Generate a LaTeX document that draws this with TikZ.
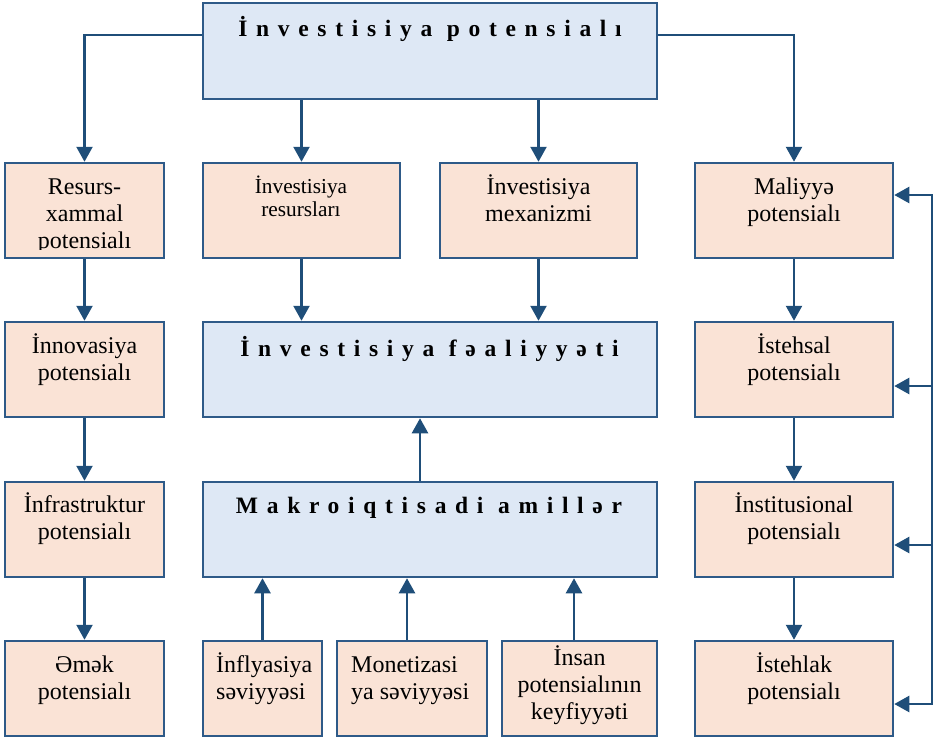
\documentclass[tikz,border=0pt]{standalone}
\usepackage{fontspec}
\setmainfont{Liberation Serif}
\usetikzlibrary{arrows.meta}
\definecolor{bdr}{HTML}{2E5A88}
\definecolor{bfill}{HTML}{DEE8F5}
\definecolor{pfill}{HTML}{FAE3D6}
\definecolor{arrc}{HTML}{1F4E79}
\newcommand{\tlc}[1]{\begin{tabular}[t]{@{}c@{}}#1\end{tabular}}
\newcommand{\tll}[1]{\begin{tabular}[t]{@{}l@{}}#1\end{tabular}}
\begin{document}
\begin{tikzpicture}[x=1pt,y=-1pt,
 box/.style={draw=bdr, line width=2.5pt, inner sep=0pt, minimum height=95pt},
 bluebox/.style={box, fill=bfill},
 peachbox/.style={box, fill=pfill},
 txt/.style={anchor=base, inner sep=0pt, font=\fontsize{24}{27}\selectfont},
 smalltxt/.style={anchor=base, inner sep=0pt, font=\fontsize{21.3}{23.5}\selectfont},
 titletxt/.style={anchor=base, inner sep=0pt, font=\fontsize{23.5}{26}\selectfont\bfseries\addfontfeatures{LetterSpace=37}},
 line/.style={draw=arrc, line width=2.4pt},
 arr/.style={line, -{Triangle[width=16pt,length=15pt]}},
 darr/.style={line, {Triangle[width=16pt,length=15pt]}-{Triangle[width=16pt,length=15pt]}},
]
\useasboundingbox (0,0) rectangle (936,741);
% boxes
\node[bluebox, minimum width=454pt, minimum height=96pt] (T) at (430,51) {};
\node[peachbox, minimum width=159pt] (A1) at (84.5,210.5) {};
\node[peachbox, minimum width=197pt] (B) at (301.5,210.5) {};
\node[peachbox, minimum width=197pt] (C) at (538.5,210.5) {};
\node[peachbox, minimum width=198pt] (D1) at (794,210.5) {};
\node[peachbox, minimum width=159pt] (A2) at (84.5,369.5) {};
\node[bluebox, minimum width=454pt] (F) at (430,369.5) {};
\node[peachbox, minimum width=198pt] (D2) at (794,369.5) {};
\node[peachbox, minimum width=159pt] (A3) at (84.5,529.5) {};
\node[bluebox, minimum width=454pt] (M) at (430,529.5) {};
\node[peachbox, minimum width=198pt] (D3) at (794,529.5) {};
\node[peachbox, minimum width=159pt] (A4) at (84.5,688.5) {};
\node[peachbox, minimum width=119pt] (P1) at (262.5,688.5) {};
\node[peachbox, minimum width=150pt] (P2) at (412,688.5) {};
\node[peachbox, minimum width=155pt] (P3) at (579.5,688.5) {};
\node[peachbox, minimum width=198pt] (D4) at (794,688.5) {};
% texts
\node[titletxt] (tT) at (430,37) {İnvestisiya potensialı};
\node[titletxt] (tF) at (429.5,356) {İnvestisiya fəaliyyəti};
\node[titletxt] (tM) at (429,513) {Makroiqtisadi amillər};
\begin{scope}
\clip (5,163) rectangle (164,249);
\node[txt] (tA1) at (84.5,194) {\tlc{Resurs-\\xammal\\potensialı}};
\end{scope}
\node[smalltxt] (tB) at (301,193) {\tlc{İnvestisiya\\resursları}};
\node[txt] (tC) at (538.5,194) {\tlc{İnvestisiya\\mexanizmi}};
\node[txt] (tD1) at (794,194) {\tlc{Maliyyə\\potensialı}};
\node[txt] (tA2) at (84.5,353) {\tlc{İnnovasiya\\potensialı}};
\node[txt] (tD2) at (794,353) {\tlc{İstehsal\\potensialı}};
\node[txt] (tA3) at (84.5,512) {\tlc{İnfrastruktur\\potensialı}};
\node[txt] (tD3) at (794,512) {\tlc{İnstitusional\\potensialı}};
\node[txt] (tA4) at (84.5,672) {\tlc{Əmək\\potensialı}};
\node[txt] (tD4) at (794,672) {\tlc{İstehlak\\potensialı}};
\node[txt, anchor=base west] (tP1) at (216,672) {\tll{İnflyasiya\\səviyyəsi}};
\node[txt, anchor=base west] (tP2) at (351,672) {\tll{Monetizasi\\ya səviyyəsi}};
\node[txt] (tP3) at (579.5,665) {\tlc{İnsan\\potensialının\\keyfiyyəti}};
% connectors
\draw[arr] ([yshift=16pt]T.west) -| (A1.north);
\draw[arr] ([yshift=16pt]T.east) -| (D1.north);
\draw[arr] (T.south -| B.north) -- (B.north);
\draw[arr] (T.south -| C.north) -- (C.north);
\draw[arr] (A1) -- (A2);
\draw[arr] (A2) -- (A3);
\draw[arr] (A3) -- (A4);
\draw[arr] (D1) -- (D2);
\draw[arr] (D2) -- (D3);
\draw[arr] (D3) -- (D4);
\draw[arr] (B.south) -- (B.south |- F.north);
\draw[arr] (C.south) -- (C.south |- F.north);
\draw[arr] ([xshift=-10pt]M.north) -- ([xshift=-10pt]F.south);
\draw[arr] (P1.north) -- (P1.north |- M.south);
\draw[arr] ([xshift=-5pt]P2.north) -- ([xshift=-5pt]P2.north |- M.south);
\draw[arr] ([xshift=-5.5pt]P3.north) -- ([xshift=-5.5pt]P3.north |- M.south);
% feedback line
\coordinate (fb1) at (932,195);
\coordinate (fb2) at (932,386);
\coordinate (fb3) at (932,545);
\coordinate (fb4) at (932,704);
\draw[darr] (fb1 -| D1.east) -- (fb1) -- (fb4) -- (fb4 -| D4.east);
\draw[arr] (fb2) -- (fb2 -| D2.east);
\draw[arr] (fb3) -- (fb3 -| D3.east);
\end{tikzpicture}
\end{document}
